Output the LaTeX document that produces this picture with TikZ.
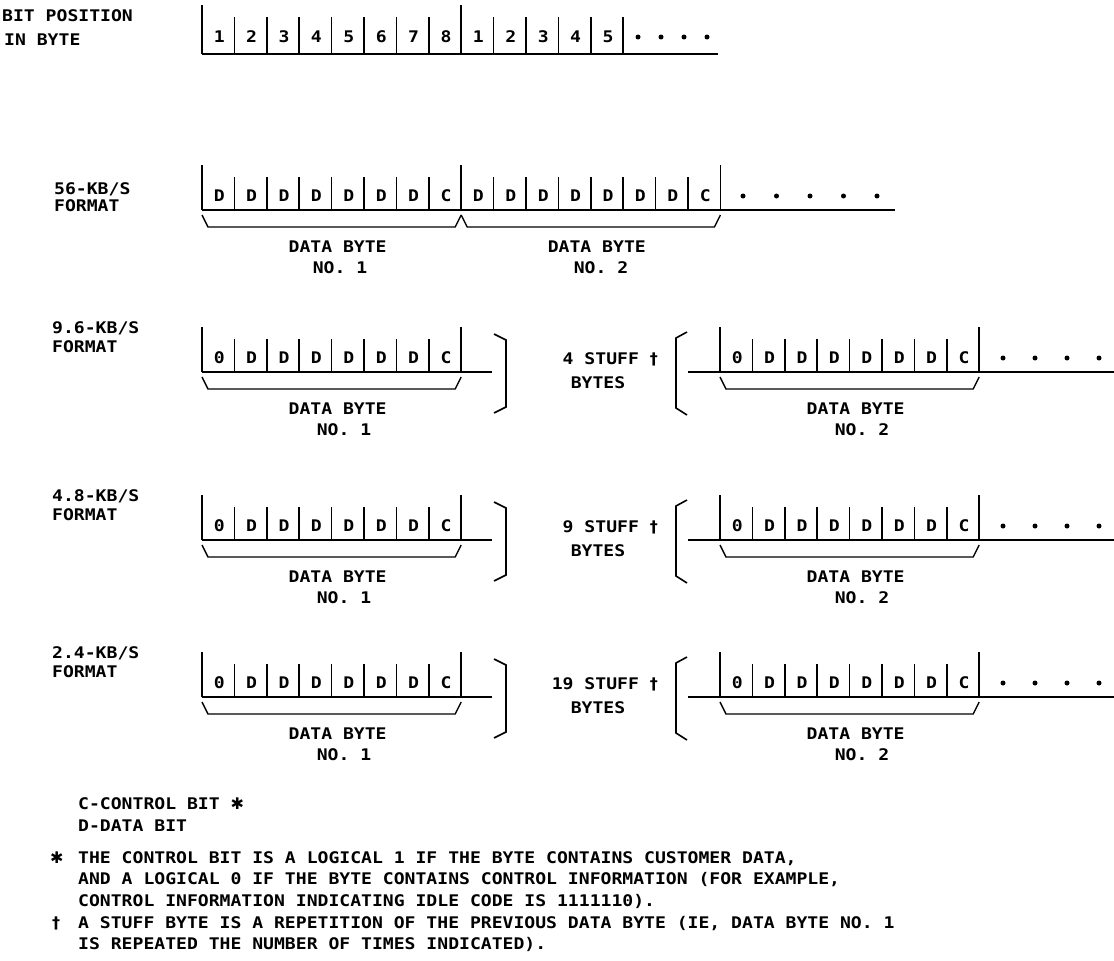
\documentclass[tikz,border=0pt]{standalone}
\usepackage{fontspec}
\setmainfont{DejaVu Sans Mono}
\newfontfamily\lett[FakeStretch=1.13]{DejaVu Sans Mono}
\newfontfamily\symfont{DejaVu Sans}
\newcommand\cw{32.4}
% byte: #1 x-left, #2 baseline, #3 first letter, #4 name
\newcommand\bytebox[4]{%
  \foreach \i in {0,...,8}{%
    \pgfmathsetmacro\xx{#1+\cw*\i}%
    \ifnum\i=0 \def\tp{45}\else\ifnum\i=8 \def\tp{45}\else\def\tp{33}\fi\fi
    \draw[ln] (\xx,#2) -- (\xx,#2-\tp);
  }%
  \foreach \i/\c in {0/#3,1/D,2/D,3/D,4/D,5/D,6/D,7/C}{%
    \pgfmathsetmacro\xx{#1+\cw*\i+\cw/2+1}%
    \node[txt,anchor=base] (#4-\i) at (\xx,#2-9) {\c};
  }%
  \draw[br] (#1,#2+5) -- (#1+6,#2+17) -- (#1+8*\cw-6,#2+17) -- (#1+8*\cw,#2+5);
  \node[txt,anchor=base] (#4-db) at (#1+4*\cw+6,#2+42) {DATA BYTE};
}
\begin{document}
\begin{tikzpicture}[x=1pt,y=-1pt,
  ln/.style={line width=1.6pt},
  br/.style={line width=1.4pt},
  txt/.style={inner sep=0pt,font={\fontsize{16}{19}\lett\bfseries}},
  dot/.style={circle,fill=black,inner sep=0pt,minimum size=5pt}]
\useasboundingbox (0,0) rectangle (1114,961);
\fill[white] (0,0) rectangle (1114,961);

% ---------- top row
\node[txt,anchor=base west] (bp1) at (2,21) {BIT POSITION};
\node[txt,anchor=base west] (bp2) at (4,45) {IN BYTE};
\foreach \i in {0,...,13}{%
  \pgfmathsetmacro\xx{202+\cw*\i}%
  \ifnum\i=0 \def\tp{5}\else\ifnum\i=8 \def\tp{5}\else\def\tp{17}\fi\fi
  \draw[ln] (\xx,54) -- (\xx,\tp);
}
\foreach \i/\c in {0/1,1/2,2/3,3/4,4/5,5/6,6/7,7/8,8/1,9/2,10/3,11/4,12/5}{%
  \pgfmathsetmacro\xx{202+\cw*\i+\cw/2+1}%
  \node[txt,anchor=base] (tp-\i) at (\xx,42) {\c};
}
\draw[ln] (202,54) -- (718,54);
\foreach \k in {0,...,3}{\node[dot] (tdot-\k) at (638+23*\k,37) {};}

% ---------- 56 kb/s
\node[txt,anchor=base west] (l56a) at (54,194) {56-KB/S};
\node[txt,anchor=base west] (l56b) at (54,211) {FORMAT};
\bytebox{202}{210}{D}{a1}
\bytebox{461.2}{210}{D}{a2}
\node[txt,anchor=base] (a1-no) at (340,273) {NO. 1};
\node[txt,anchor=base] (a2-no) at (601,273) {NO. 2};
\draw[ln] (202,210) -- (895,210);
\foreach \k in {0,...,4}{\node[dot] (adot-\k) at (743+33.5*\k,196) {};}

% ---------- generic slow rows
\newcommand\slowrow[4]{% #1 baseline, #2 name, #3 label, #4 stuff count
  \node[txt,anchor=base west] (#2-la) at (52,#1-39) {#3};
  \node[txt,anchor=base west] (#2-lb) at (52,#1-20) {FORMAT};
  \bytebox{202}{#1}{0}{#2b1}
  \bytebox{720}{#1}{0}{#2b2}
  \node[txt,anchor=base] (#2b1-no) at (344,#1+63) {NO. 1};
  \node[txt,anchor=base] (#2b2-no) at (862,#1+63) {NO. 2};
  \draw[ln] (202,#1) -- (492,#1);
  \draw[ln] (688,#1) -- (1114,#1);
  \draw[ln] (494,#1-38) -- (506,#1-32) -- (506,#1+35) -- (494,#1+41);
  \draw[ln] (687,#1-40) -- (676,#1-34) -- (676,#1+36) -- (687,#1+43);
  \node[txt,anchor=base east] (#2-st) at (658,#1-8) {#4 STUFF {\symfont\bfseries †}};
  \node[txt,anchor=base] (#2-by) at (598,#1+16) {BYTES};
  \foreach \k in {0,...,3}{\node[dot] (#2dot-\k) at (1003+32*\k,#1-14) {};}
}
\slowrow{372}{r96}{9.6-KB/S}{4}
\slowrow{540}{r48}{4.8-KB/S}{9}
\slowrow{697}{r24}{2.4-KB/S}{19}

% ---------- legend and notes
\node[txt,anchor=base west] (leg1) at (78,809) {C-CONTROL BIT {\symfont ✱}};
\node[txt,anchor=base west] (leg2) at (78,831) {D-DATA BIT};
\node[txt,anchor=base west] (n1s) at (50,863) {\symfont ✱};
\node[txt,anchor=base west] (n1a) at (78,863) {THE CONTROL BIT IS A LOGICAL 1 IF THE BYTE CONTAINS CUSTOMER DATA,};
\node[txt,anchor=base west] (n1b) at (78,884) {AND A LOGICAL 0 IF THE BYTE CONTAINS CONTROL INFORMATION (FOR EXAMPLE,};
\node[txt,anchor=base west] (n1c) at (78,906) {CONTROL INFORMATION INDICATING IDLE CODE IS 1111110).};
\node[txt,anchor=base west] (n2s) at (52,928) {\symfont\bfseries †};
\node[txt,anchor=base west] (n2a) at (78,928) {A STUFF BYTE IS A REPETITION OF THE PREVIOUS DATA BYTE (IE, DATA BYTE NO. 1};
\node[txt,anchor=base west] (n2b) at (78,949) {IS REPEATED THE NUMBER OF TIMES INDICATED).};
\end{tikzpicture}
\end{document}
